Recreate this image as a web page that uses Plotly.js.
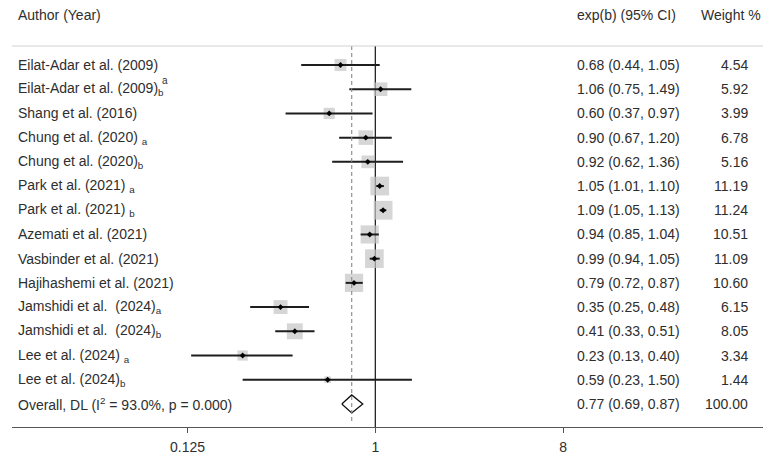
<!DOCTYPE html>
<html>
<head>
<meta charset="utf-8">
<script src="https://cdn.plot.ly/plotly-3.0.1.min.js"></script>
<style>
  html, body { margin: 0; padding: 0; background: #ffffff; }
  #chart { width: 774px; height: 462px; }
</style>
</head>
<body>
<div id="chart"></div>
<script>
// Study-level results (exp(b) with 95% CI and random-effects weights)
const studies = [
  "Eilat-Adar et al. (2009)",
  "Eilat-Adar et al. (2009)<sub>b</sub>",
  "Shang et al. (2016)",
  "Chung et al. (2020) <sub>a</sub>",
  "Chung et al. (2020)<sub>b</sub>",
  "Park et al. (2021) <sub>a</sub>",
  "Park et al. (2021) <sub>b</sub>",
  "Azemati et al. (2021)",
  "Vasbinder et al. (2021)",
  "Hajihashemi et al. (2021)",
  "Jamshidi et al.\u00a0 (2024)<sub>a</sub>",
  "Jamshidi et al.\u00a0 (2024)<sub>b</sub>",
  "Lee et al. (2024) <sub>a</sub>",
  "Lee et al. (2024)<sub>b</sub>"
];
const estimates = [0.68, 1.06, 0.60, 0.90, 0.92, 1.05, 1.09, 0.94, 0.99, 0.79, 0.35, 0.41, 0.23, 0.59];
const ciLower   = [0.44, 0.75, 0.37, 0.67, 0.62, 1.01, 1.05, 0.85, 0.94, 0.72, 0.25, 0.33, 0.13, 0.23];
const ciUpper   = [1.05, 1.49, 0.97, 1.20, 1.36, 1.10, 1.13, 1.04, 1.05, 0.87, 0.48, 0.51, 0.40, 1.50];
const weights   = [4.54, 5.92, 3.99, 6.78, 5.16, 11.19, 11.24, 10.51, 11.09, 10.60, 6.15, 8.05, 3.34, 1.44];

// Pooled estimate
const overallLabel  = "Overall, DL (I<sup>2</sup> = 93.0%, p = 0.000)";
const overallEst    = 0.77;
const overallLower  = 0.69;
const overallUpper  = 0.87;
const overallWeight = 100.00;

// Axis ticks and column headers
const tickValues = [0.125, 1, 8];
const tickLabels = ["0.125", "1", "8"];
const headers = { study: "Author (Year)", effect: "exp(b) (95% CI)", weight: "Weight %" };

// ---- drawing ----
const FONT = "Liberation Sans, Arial, sans-serif";
const TEXT = "#2e2e2e";
const FS = 14;

const nRows = studies.length;
const rows = studies.map((_, i) => i);
const overallRow = nRows;
const headerRuleY = -0.785;
const diamondHalf = 0.37;

// CI whiskers, joined into one trace with gaps
const ciX = [], ciY = [];
rows.forEach(i => { ciX.push(ciLower[i], ciUpper[i], null); ciY.push(i, i, null); });

const fmt = v => v.toFixed(2);

const traces = [
  // reference line at the null value
  { x: [1, 1], y: [headerRuleY, 14.953], mode: "lines",
    line: { color: "#111111", width: 1.2 }, hoverinfo: "skip" },
  // weight boxes (area proportional to weight)
  { x: estimates, y: rows, mode: "markers",
    marker: { symbol: "square", color: "#c4c4c4", size: weights.map(w => 5.6 * Math.sqrt(w)),
              line: { width: 0 } }, hoverinfo: "skip" },
  // confidence intervals
  { x: ciX, y: ciY, mode: "lines", line: { color: "#1e1e1e", width: 2 }, hoverinfo: "skip" },
  // point estimates
  { x: estimates, y: rows, mode: "markers",
    marker: { symbol: "diamond", color: "#000000", size: 4.5 }, hoverinfo: "skip" },
  // pooled diamond
  { x: [overallLower, overallEst, overallUpper, overallEst, overallLower],
    y: [overallRow, overallRow - diamondHalf, overallRow, overallRow + diamondHalf, overallRow],
    mode: "lines", line: { color: "#111111", width: 1.3 }, hoverinfo: "skip" },
  // dashed line at the pooled estimate
  { x: [overallEst, overallEst], y: [headerRuleY, 14.78], mode: "lines",
    line: { color: "#8c8590", width: 1.1, dash: "4px,3px" }, hoverinfo: "skip" }
];

const colStudy = 0.0067, colEffect = 0.751, colWeight = 0.9814;
const ann = (text, x, y, anchor, size) => ({
  text, x, y, xref: "paper", yref: "y", xanchor: anchor, yanchor: "middle",
  showarrow: false, borderpad: 0, font: { family: FONT, size: size || FS, color: TEXT }
});

const annotations = [];
annotations.push(ann(headers.study, colStudy, -2.065, "left"));
annotations.push(ann(headers.effect, colEffect, -2.065, "left"));
annotations.push(ann(headers.weight, 0.9987, -2.065, "right"));

rows.forEach(i => {
  annotations.push(ann(studies[i], colStudy, i, "left"));
  annotations.push(ann(`${fmt(estimates[i])} (${fmt(ciLower[i])}, ${fmt(ciUpper[i])})`, colEffect, i, "left"));
  annotations.push(ann(fmt(weights[i]), colWeight, i, "right"));
});
// stacked superscript on the second Eilat-Adar row
annotations.push(ann("a", 0.1988, 1 - 0.38, "left", 10));

annotations.push(ann(overallLabel, colStudy, overallRow, "left"));
annotations.push(ann(`${fmt(overallEst)} (${fmt(overallLower)}, ${fmt(overallUpper)})`, colEffect, overallRow, "left"));
annotations.push(ann(fmt(overallWeight), colWeight, overallRow, "right"));

const layout = {
  width: 774, height: 462,
  margin: { l: 12, r: 11, t: 0, b: 35 },
  paper_bgcolor: "#ffffff", plot_bgcolor: "#ffffff",
  showlegend: false, hovermode: false,
  xaxis: {
    type: "log", range: [-1.7479, 1.8652],
    tickvals: tickValues, ticktext: tickLabels,
    ticks: "outside", ticklen: 5, tickcolor: "#555555", tickwidth: 1,
    ticklabelstandoff: 2,
    showline: true, linecolor: "#555555", linewidth: 1,
    showgrid: false, zeroline: false,
    tickfont: { family: FONT, size: FS, color: TEXT }
  },
  yaxis: {
    range: [14.953, -2.685], visible: false, showgrid: false, zeroline: false
  },
  shapes: [
    { type: "line", xref: "paper", yref: "y", x0: 0, x1: 1, y0: headerRuleY, y1: headerRuleY,
      line: { color: "#d2d2d2", width: 1 } }
  ],
  annotations
};

Plotly.newPlot("chart", traces, layout, { staticPlot: true, displayModeBar: false });
</script>
</body>
</html>
